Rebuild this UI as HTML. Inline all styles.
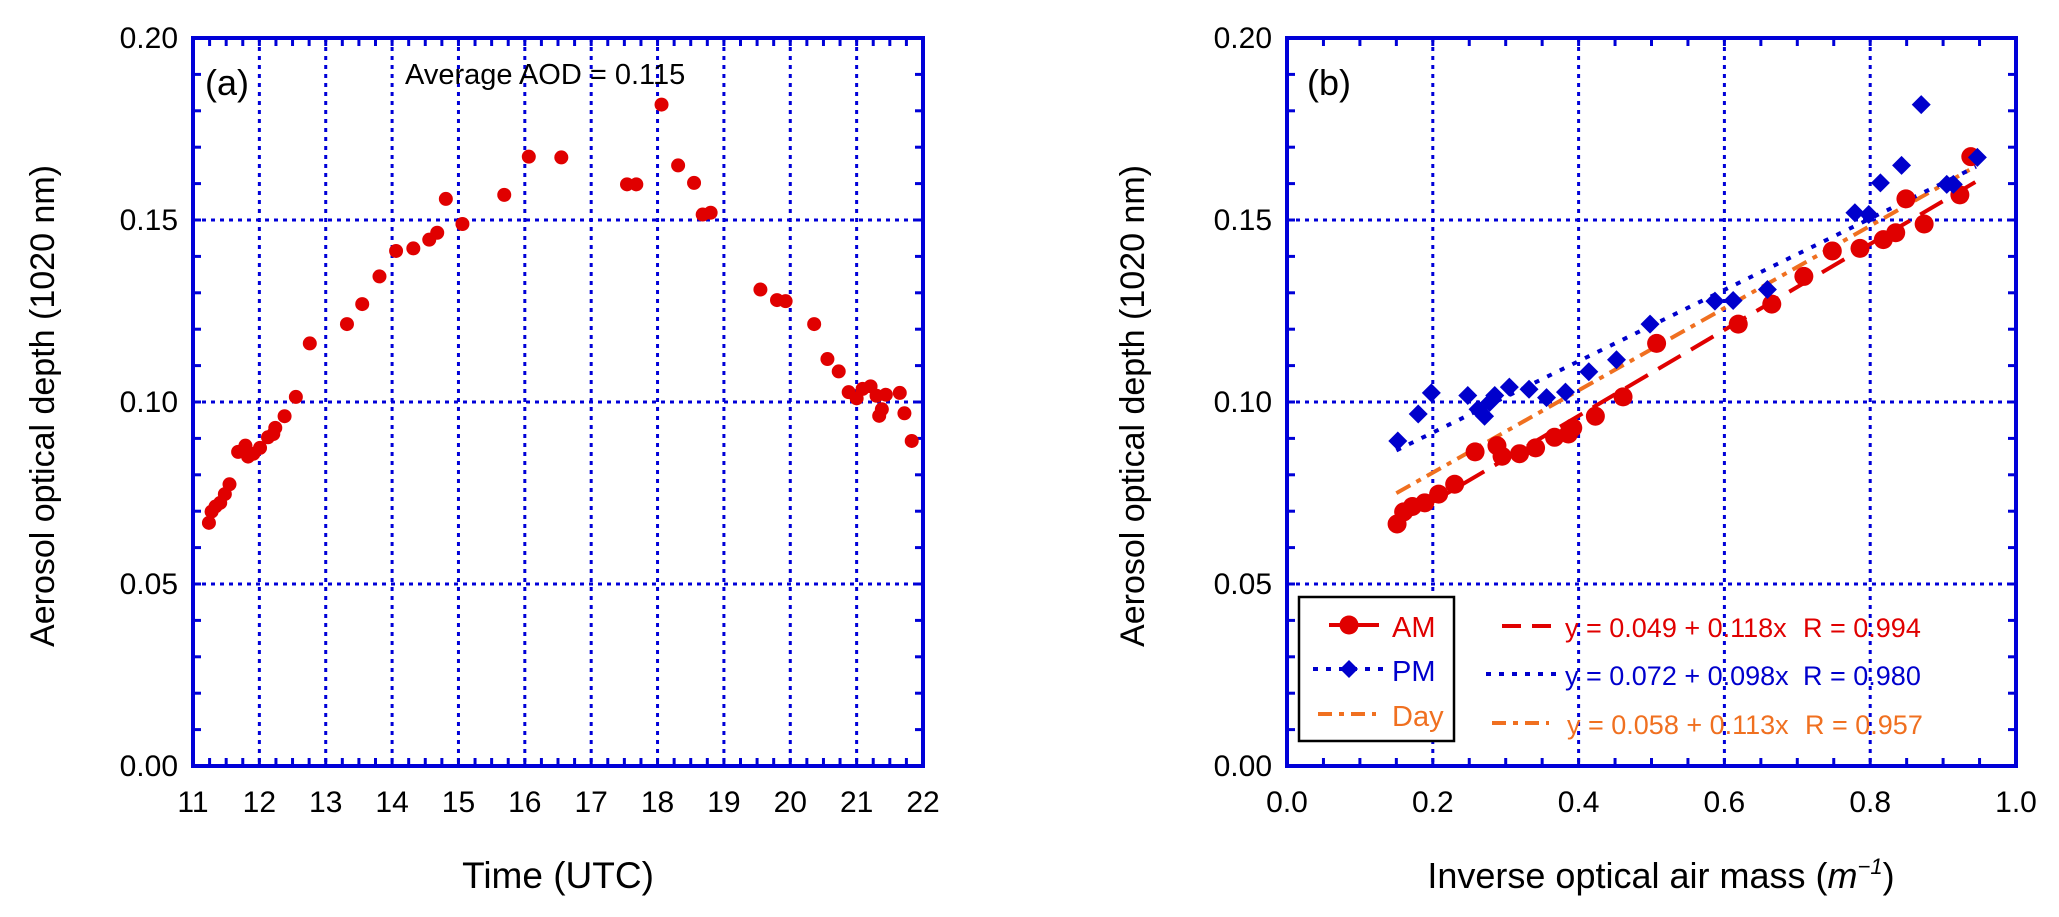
<!DOCTYPE html>
<html><head><meta charset="utf-8"><style>
html,body{margin:0;padding:0;background:#fff}
svg{display:block;font-family:"Liberation Sans",Arial,sans-serif}
</style></head><body>
<svg id="fig" width="2059" height="917" viewBox="0 0 2059 917" xmlns="http://www.w3.org/2000/svg"></svg>
<script>
// Panel (a) data
const timeA = [11.24,11.28,11.34,11.41,11.48,11.55,11.68,11.75,11.79,11.83,11.91,12.01,12.13,12.21,12.24,12.38,12.55,12.76,13.32,13.55,13.81,14.06,14.32,14.56,14.68,14.81,15.06,15.69,16.06,16.55,17.54,17.68,18.06,18.31,18.55,18.68,18.80,19.55,19.80,19.93,20.36,20.56,20.73,20.88,21.00,21.09,21.21,21.30,21.34,21.38,21.44,21.65,21.72,21.83];
const aodA = [0.0668,0.0699,0.0713,0.0723,0.0747,0.0774,0.0863,0.0866,0.0880,0.0850,0.0858,0.0874,0.0903,0.0912,0.0929,0.0961,0.1014,0.1161,0.1214,0.1269,0.1345,0.1415,0.1422,0.1446,0.1465,0.1558,0.1489,0.1569,0.1674,0.1672,0.1598,0.1598,0.1817,0.1650,0.1602,0.1515,0.1520,0.1309,0.1280,0.1277,0.1214,0.1118,0.1084,0.1027,0.1010,0.1036,0.1043,0.1017,0.0962,0.0980,0.1020,0.1025,0.0969,0.0893];
const xTicksA = [11,12,13,14,15,16,17,18,19,20,21,22];
const yTicks = [0.00,0.05,0.10,0.15,0.20];
// Panel (b) data
const amX = [0.151,0.160,0.172,0.189,0.208,0.230,0.258,0.288,0.295,0.319,0.341,0.367,0.386,0.392,0.423,0.461,0.507,0.619,0.665,0.709,0.748,0.786,0.818,0.835,0.849,0.874,0.923,0.938];
const amY = [0.0665,0.0698,0.0713,0.0723,0.0747,0.0774,0.0863,0.0880,0.0851,0.0858,0.0874,0.0903,0.0912,0.0929,0.0961,0.1014,0.1161,0.1214,0.1269,0.1345,0.1415,0.1422,0.1446,0.1465,0.1558,0.1489,0.1569,0.1674];
const pmX = [0.152,0.180,0.198,0.248,0.262,0.271,0.278,0.285,0.305,0.332,0.356,0.382,0.414,0.452,0.498,0.587,0.612,0.659,0.779,0.798,0.814,0.843,0.870,0.905,0.914,0.947];
const pmY = [0.0893,0.0967,0.1025,0.1018,0.0980,0.0961,0.0999,0.1018,0.1041,0.1035,0.1012,0.1027,0.1083,0.1116,0.1214,0.1277,0.1279,0.1309,0.1520,0.1515,0.1602,0.1650,0.1817,0.1598,0.1598,0.1672];
const xTicksB = [0.0,0.2,0.4,0.6,0.8,1.0];
const fitAM = [0.049,0.118];
const fitPM = [0.072,0.098];
const fitDay = [0.058,0.113];
const fitRange = [0.15,0.945];

const NS="http://www.w3.org/2000/svg";
const svg=document.getElementById('fig');
function el(tag,attrs,parent){const e=document.createElementNS(NS,tag);for(const k in attrs)e.setAttribute(k,attrs[k]);(parent||svg).appendChild(e);return e;}
const BLUE="#0000d8", RED="#e00000", PBLUE="#0000cc", ORANGE="#f07020";
const TOP=38,BOT=766;
const sy=v=>BOT-(v/0.2)*(BOT-TOP);

function frame(L,R,xmin,xmax,xminorStep,gridX,name,xTicks,fmt){
  const sx=v=>L+(v-xmin)/(xmax-xmin)*(R-L);
  const g=el('g',{});  
  gridX.forEach(v=>{const l=el('line',{x1:sx(v),x2:sx(v),y1:TOP,y2:BOT,stroke:BLUE,'stroke-width':3,'stroke-dasharray':'4 5'},g);
    });
  [0.05,0.10,0.15].forEach(v=>{const l=el('line',{x1:L,x2:R,y1:sy(v),y2:sy(v),stroke:BLUE,'stroke-width':3,'stroke-dasharray':'4 5'},g);
    });
  for(let v=xmin;v<=xmax+1e-9;v+=xminorStep){const x=sx(v);
    el('line',{x1:x,x2:x,y1:BOT,y2:BOT-8,stroke:BLUE,'stroke-width':3},g);
    el('line',{x1:x,x2:x,y1:TOP,y2:TOP+8,stroke:BLUE,'stroke-width':3},g);}
  for(let i=0;i<=20;i++){const y=sy(i*0.01);
    el('line',{x1:L,x2:L+8,y1:y,y2:y,stroke:BLUE,'stroke-width':3},g);
    el('line',{x1:R,x2:R-8,y1:y,y2:y,stroke:BLUE,'stroke-width':3},g);}
  const b=el('rect',{x:L,y:TOP,width:R-L,height:BOT-TOP,fill:'none',stroke:BLUE,'stroke-width':4},g);
  
  xTicks.forEach(v=>{const t=el('text',{x:sx(v),y:812,'font-size':30,'text-anchor':'middle',fill:'#000'},g);t.textContent=fmt(v);
    });
  yTicks.forEach(v=>{const t=el('text',{x:L-15,y:sy(v)+10,'font-size':30,'text-anchor':'end',fill:'#000'},g);t.textContent=v.toFixed(2);
    });
  return sx;
}

// Panel a
const sxA=frame(193,923,11,22,0.25,[12,13,14,15,16,17,18,19,20,21],'panel-a',xTicksA,v=>String(v));
const gA=el('g',{});
timeA.forEach((t,i)=>{const c=el('circle',{cx:sxA(t),cy:sy(aodA[i]),r:7,fill:RED},gA);
  });
let t;
t=el('text',{x:205,y:95,'font-size':36,fill:'#000'});t.textContent='(a)';
t=el('text',{x:405,y:84,'font-size':29,fill:'#000'});t.textContent='Average AOD = 0.115';
t=el('text',{x:0,y:0,'font-size':34,'text-anchor':'middle',fill:'#000',transform:'translate(54,406) rotate(-90)'});t.textContent='Aerosol optical depth (1020 nm)';
t=el('text',{x:558,y:888,'font-size':37,'text-anchor':'middle',fill:'#000'});t.textContent='Time (UTC)';

// Panel b
const sxB=frame(1287,2016,0,1,0.05,[0.2,0.4,0.6,0.8],'panel-b',xTicksB,v=>v.toFixed(1));
function fitLine(fit,color,dash,name){const x0=fitRange[0],x1=fitRange[1];
  const l=el('line',{x1:sxB(x0),y1:sy(fit[0]+fit[1]*x0),x2:sxB(x1),y2:sy(fit[0]+fit[1]*x1),stroke:color,'stroke-width':4,'stroke-dasharray':dash});
  }
fitLine(fitDay,ORANGE,'16 7 5 7','day-fit-line');
fitLine(fitPM,PBLUE,'5 9','pm-fit-line');
fitLine(fitAM,RED,'26 12','am-fit-line');
const gAM=el('g',{});
amX.forEach((x,i)=>{const c=el('circle',{cx:sxB(x),cy:sy(amY[i]),r:9.5,fill:RED},gAM);
  });
const gPM=el('g',{});
pmX.forEach((x,i)=>{const cx=sxB(x),cy=sy(pmY[i]),d=9.5;
  const p=el('polygon',{points:`${cx},${cy-d} ${cx+d},${cy} ${cx},${cy+d} ${cx-d},${cy}`,fill:PBLUE},gPM);
  });

// Legend
const lg=el('g',{});
el('rect',{x:1299,y:597,width:155,height:144,fill:'#fff',stroke:'#000','stroke-width':2.5},lg);
el('line',{x1:1329,x2:1382,y1:625,y2:625,stroke:RED,'stroke-width':4,'stroke-dasharray':'22 6'},lg);
el('circle',{cx:1349,cy:625,r:9.5,fill:RED},lg);
el('line',{x1:1313,x2:1386,y1:669,y2:669,stroke:PBLUE,'stroke-width':4,'stroke-dasharray':'5 8'},lg);
el('polygon',{points:'1349,660 1358,669 1349,678 1340,669',fill:PBLUE},lg);
el('line',{x1:1318,x2:1376,y1:714,y2:714,stroke:ORANGE,'stroke-width':4,'stroke-dasharray':'14 7 5 7'},lg);
[['AM',RED,637,'legend-am'],['PM',PBLUE,681,'legend-pm'],['Day',ORANGE,726,'legend-day']].forEach(a=>{
  const e=el('text',{x:1392,y:a[2],'font-size':29,fill:a[1]},lg);e.textContent=a[0];
  });
el('line',{x1:1502,x2:1553,y1:626,y2:626,stroke:RED,'stroke-width':4,'stroke-dasharray':'19 11'});
el('line',{x1:1486,x2:1558,y1:674,y2:674,stroke:PBLUE,'stroke-width':4,'stroke-dasharray':'5 8'});
el('line',{x1:1492,x2:1549,y1:723,y2:723,stroke:ORANGE,'stroke-width':4,'stroke-dasharray':'14 7 5 7'});
[['y = 0.049 + 0.118x','R = 0.994',RED,637,1565,1803,'am-equation'],
 ['y = 0.072 + 0.098x','R = 0.980',PBLUE,685,1565,1803,'pm-equation'],
 ['y = 0.058 + 0.113x','R = 0.957',ORANGE,734,1567,1805,'day-equation']].forEach(a=>{
  let e=el('text',{x:a[4],y:a[3],'font-size':27,fill:a[2]});e.textContent=a[0];
  
  e=el('text',{x:a[5],y:a[3],'font-size':27,fill:a[2]});e.textContent=a[1];
  });
t=el('text',{x:1307,y:95,'font-size':36,fill:'#000'});t.textContent='(b)';
t=el('text',{x:0,y:0,'font-size':34,'text-anchor':'middle',fill:'#000',transform:'translate(1144,406) rotate(-90)'});t.textContent='Aerosol optical depth (1020 nm)';
t=el('text',{x:1661,y:888,'font-size':36,'text-anchor':'middle',fill:'#000'});

t.innerHTML='Inverse optical air mass (<tspan font-style="italic">m</tspan><tspan font-style="italic" font-size="22" dy="-14">−1</tspan><tspan dy="14">)</tspan>';
</script>
</body></html>
